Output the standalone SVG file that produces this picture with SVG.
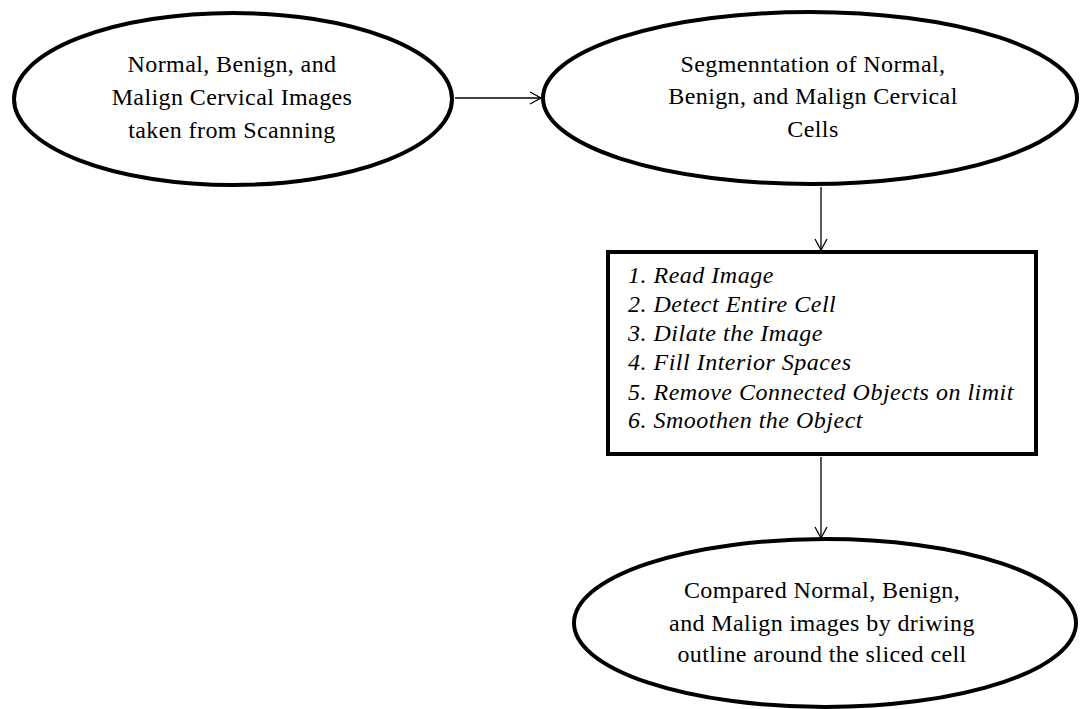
<svg xmlns="http://www.w3.org/2000/svg" width="1080" height="709" viewBox="0 0 1080 709">
<defs>
<style>
.node{fill:#fff;stroke:#000;stroke-width:4}
.lbl{font-family:"Liberation Serif","Times New Roman",serif;font-size:24px;letter-spacing:0.4px;fill:#000;text-anchor:middle}
.step{font-family:"Liberation Serif","Times New Roman",serif;font-size:24px;letter-spacing:0.5px;font-style:italic;fill:#000}
.conn{stroke:#000;stroke-width:1.3;fill:none}
</style>
<marker id="arr" markerWidth="14" markerHeight="14" refX="12" refY="7" orient="auto" markerUnits="userSpaceOnUse">
<path d="M1,1 L12,7 L1,13" fill="none" stroke="#000" stroke-width="1.3"/>
</marker>
</defs>
<rect width="1080" height="709" fill="#fff"/>
<g id="connectors">
<line class="conn" x1="455" y1="98" x2="541" y2="98" marker-end="url(#arr)"/>
<line class="conn" x1="821" y1="187" x2="821" y2="250" marker-end="url(#arr)"/>
<line class="conn" x1="821" y1="457" x2="821" y2="538" marker-end="url(#arr)"/>
</g>
<g id="node1">
<ellipse class="node" cx="233" cy="99" rx="219" ry="86"/>
<text class="lbl" x="232" y="72">Normal, Benign,  and</text>
<text class="lbl" x="232" y="105">Malign Cervical Images</text>
<text class="lbl" x="232" y="138">taken from  Scanning</text>
</g>
<g id="node2">
<ellipse class="node" cx="810" cy="98" rx="267" ry="86"/>
<text class="lbl" x="813" y="72">Segmenntation of Normal,</text>
<text class="lbl" x="813" y="104">Benign, and Malign Cervical</text>
<text class="lbl" x="813" y="137">Cells</text>
</g>
<g id="node3">
<rect class="node" x="608" y="252" width="428" height="202"/>
<text class="step" x="628" y="283">1. Read Image</text>
<text class="step" x="628" y="312">2. Detect Entire Cell</text>
<text class="step" x="628" y="341">3. Dilate the Image</text>
<text class="step" x="628" y="370">4. Fill Interior Spaces</text>
<text class="step" x="628" y="400">5. Remove Connected Objects on limit</text>
<text class="step" x="628" y="428">6. Smoothen the Object</text>
</g>
<g id="node4">
<ellipse class="node" cx="825" cy="623" rx="251" ry="84"/>
<text class="lbl" x="822" y="598">Compared Normal, Benign,</text>
<text class="lbl" x="822" y="631">and Malign images by driwing</text>
<text class="lbl" x="822" y="662">outline around the sliced cell</text>
</g>
</svg>
